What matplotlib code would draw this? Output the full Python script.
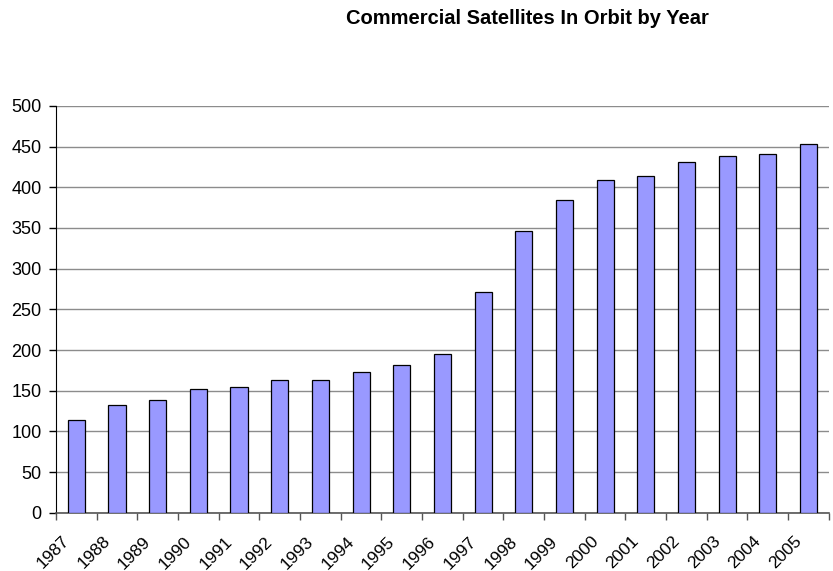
import matplotlib
matplotlib.use("Agg")
import matplotlib.pyplot as plt
import matplotlib.transforms as mtransforms
import numpy as np

years = ["1987", "1988", "1989", "1990", "1991", "1992", "1993", "1994", "1995", "1996",
         "1997", "1998", "1999", "2000", "2001", "2002", "2003", "2004", "2005"]
satellites = [114, 133, 139, 152, 155, 163, 163, 173, 181, 195,
              271, 346, 385, 409, 414, 431, 438, 441, 453]
yticks = [0, 50, 100, 150, 200, 250, 300, 350, 400, 450, 500]
title = "Commercial Satellites In Orbit by Year"

plt.rcParams['font.family'] = ['Liberation Sans', 'DejaVu Sans']

fig = plt.figure(figsize=(8.33, 5.71), dpi=100)
ax = fig.add_axes([0.0672, 0.1021, 0.9278, 0.7123])

x = np.arange(len(years))
ax.bar(x, satellites, width=0.42, color='#9999FF', edgecolor='black', linewidth=0.9, zorder=3)

ax.set_xlim(-0.5, len(years) - 0.5)
ax.set_ylim(0, 500)
ax.set_yticks(yticks)
ax.set_yticklabels([str(v) for v in yticks], fontsize=13)
ax.yaxis.grid(True, color='#8c8c8c', linewidth=1.0, zorder=0)
ax.set_axisbelow(True)

ax.set_xticks(x)
ax.set_xticklabels(years, rotation=45, ha='right', va='top', fontsize=12.5)
ax.tick_params(axis='x', length=0, pad=15)
offset = mtransforms.ScaledTranslation(-4 / 100, 0, fig.dpi_scale_trans)
for lbl in ax.get_xticklabels():
    lbl.set_transform(lbl.get_transform() + offset)
ax.set_xticks(np.arange(-0.5, len(years)), minor=True)
ax.tick_params(axis='x', which='minor', length=5, direction='out', color='#555555', width=1)
ax.tick_params(axis='y', length=5, direction='out', width=1, pad=5.5)

for s in ['top', 'right']:
    ax.spines[s].set_visible(False)
ax.spines['left'].set_color('black')
ax.spines['bottom'].set_color('#555555')
ax.spines['bottom'].set_linewidth(1.2)

fig.text(0.633, 0.9676, title, ha='center', va='center', fontsize=14.5, fontweight='bold')

fig.savefig("out.png", dpi=100)
